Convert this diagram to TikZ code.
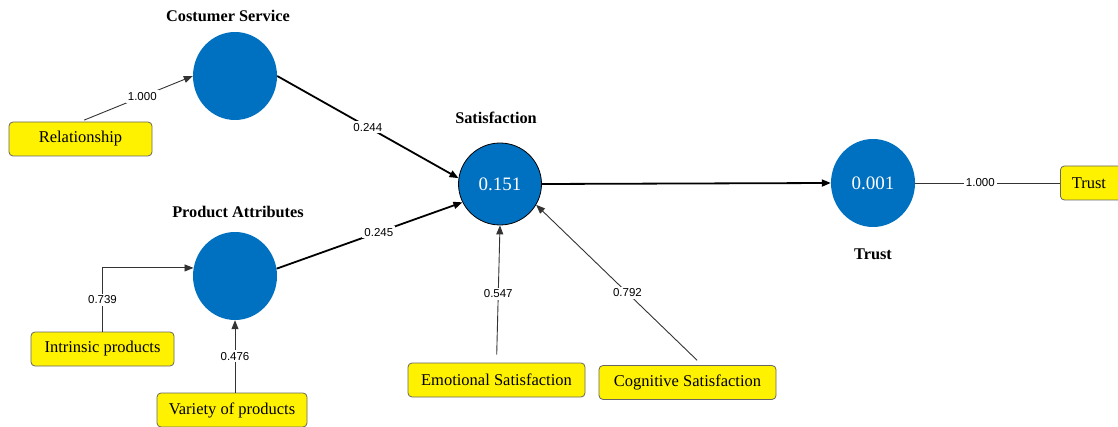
\documentclass[tikz,border=0pt]{standalone}
\usepackage{fontspec}
\setmainfont{Liberation Serif}
\newfontfamily\numfont{Liberation Sans}
\usetikzlibrary{shapes.geometric,arrows.meta}
\definecolor{lvblue}{HTML}{0070C0}
\definecolor{boxborder}{HTML}{666666}
\definecolor{thinline}{HTML}{333333}
\tikzset{
  latent/.style={ellipse,fill=lvblue,inner sep=0pt,minimum width=84pt,minimum height=88pt,
    text=white,font=\fontsize{19pt}{22pt}\selectfont},
  indicator/.style={rectangle,rounded corners=4pt,draw=boxborder,line width=0.8pt,fill=yellow,
    minimum height=34pt,inner sep=0pt,font=\fontsize{16.5pt}{19pt}\selectfont},
  title/.style={font=\fontsize{16.3pt}{19pt}\selectfont\bfseries},
  weight/.style={fill=white,inner sep=2pt,font=\numfont\fontsize{11.5pt}{14pt}\selectfont},
  meas/.style={draw=thinline,line width=0.9pt},
  struct/.style={draw=black,line width=1.8pt},
  tip/.style={-{Triangle[length=9pt,width=7pt]}},
}
\begin{document}
\begin{tikzpicture}[x=1pt,y=-1pt]
\useasboundingbox (0,0) rectangle (1118,427);
% latent variables
\node[latent] (cs) at (235,76) {};
\node[latent] (pa) at (235,276) {};
\node[latent,draw=black,line width=0.8pt,minimum width=83pt,minimum height=82pt] (sat) at (500,184) {0.151};
\node[latent] (tr) at (873,183) {0.001};
% titles
\node[title] (tcs) at (228,16) {Costumer Service};
\node[title] (tpa) at (238,212) {Product Attributes};
\node[title] (tsat) at (496,118) {Satisfaction};
\node[title] (ttr) at (873,254) {Trust};
% indicators
\node[indicator,minimum width=143pt] (rel) at (80.5,139) {Relationship};
\node[indicator,minimum width=143pt] (intr) at (102.5,349) {Intrinsic products};
\node[indicator,minimum width=150pt] (var) at (232,410) {Variety of products};
\node[indicator,minimum width=177pt] (emo) at (496.5,380) {Emotional Satisfaction};
\node[indicator,minimum width=177pt] (cog) at (687.5,382.5) {Cognitive Satisfaction};
\node[indicator,minimum width=62pt,anchor=west] (tbox) at (1060,183) {\hspace*{-5pt}Trust};
% measurement connectors
\draw[meas,tip,shorten <=4pt] (rel.north) -- node[weight,pos=0.55] {1.000} (cs.west);
\draw[meas,tip] (intr.north) |- node[weight,pos=0.25] {0.739} (pa.169);
\draw[meas,tip] (var.north -| pa.south) -- node[weight,pos=0.5] {0.476} (pa.south);
\draw[meas,tip,shorten <=8pt] (emo.north) -- node[weight,pos=0.5] {0.547} (sat.south);
\draw[meas,tip,shorten <=7pt] (cog.50) -- node[weight,pos=0.45] {0.792} (sat.-30);
\draw[meas] (tr.east) -- node[weight,pos=0.45] {1.000} (tbox.west);
% structural connectors
\draw[struct,tip] (cs.east) -- node[weight,pos=0.5] {0.244} (sat.172);
\draw[struct,tip] (pa.10) -- node[weight,pos=0.55] {0.245} (sat.206);
\draw[struct,tip] (sat.east) -- (tr.west);
\end{tikzpicture}
\end{document}
